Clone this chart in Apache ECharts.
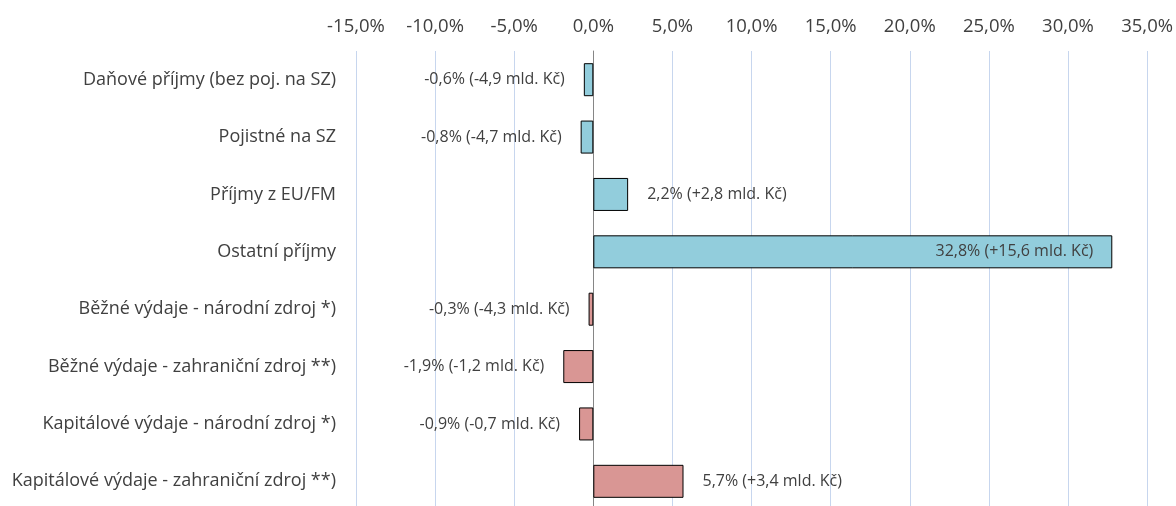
<!DOCTYPE html>
<html><head><meta charset="utf-8">
<script src="https://cdn.jsdelivr.net/npm/echarts@6/dist/echarts.min.js"></script>
<style>html,body{margin:0;padding:0;background:#fff;overflow:hidden;width:1176px;height:506px}#c{width:1176px;height:510px}</style>
</head><body><div id="c"></div>
<script>
const categories = [
  "Daňové příjmy (bez poj. na SZ)",
  "Pojistné na SZ",
  "Příjmy z EU/FM",
  "Ostatní příjmy",
  "Běžné výdaje - národní zdroj *)",
  "Běžné výdaje - zahraniční zdroj **)",
  "Kapitálové výdaje - národní zdroj *)",
  "Kapitálové výdaje - zahraniční zdroj **)"
];
const values = [-0.6, -0.8, 2.2, 32.8, -0.3, -1.9, -0.9, 5.7];
const amounts = ["-4,9", "-4,7", "+2,8", "+15,6", "-4,3", "-1,2", "-0,7", "+3,4"];
const groups = ["income","income","income","income","expense","expense","expense","expense"];
const colors = {income: "#92CDDC", expense: "#D99694"};
const xTicks = {min: -15, max: 35, step: 5};

const FONT = 'Open Sans';
const fmt = v => v.toFixed(1).replace('.', ',');
const data = values.map((v, i) => ({
  value: v,
  itemStyle: {color: colors[groups[i]]},
  label: {
    position: v < 0 ? 'left' : (v > 20 ? 'insideRight' : 'right'),
    formatter: fmt(v) + '% (' + amounts[i] + ' mld. Kč)'
  }
}));

const chart = echarts.init(document.getElementById('c'));
chart.setOption({
  animation: false,
  textStyle: {fontFamily: FONT},
  grid: {left: 356, right: 26, top: 51, bottom: 0, containLabel: false},
  xAxis: {
    type: 'value', position: 'top',
    min: xTicks.min, max: xTicks.max, interval: xTicks.step,
    axisLabel: {formatter: v => fmt(v) + '%', color: '#404040', fontSize: 18.5, margin: 15, fontFamily: FONT},
    axisLine: {show: false}, axisTick: {show: false},
    splitLine: {show: true, lineStyle: {color: '#C7D6EE', width: 1}}
  },
  yAxis: {
    type: 'category', inverse: true, data: categories,
    axisLabel: {color: '#404040', fontSize: 18, margin: 20, fontFamily: FONT},
    axisTick: {show: false},
    axisLine: {show: true, onZero: true, lineStyle: {color: '#868686', width: 1}}
  },
  series: [{
    type: 'bar', data: data, barWidth: 33,
    itemStyle: {borderColor: '#000', borderWidth: 1},
    label: {show: true, color: '#404040', fontSize: 16, distance: 19, fontFamily: FONT}
  }]
});
</script></body></html>
